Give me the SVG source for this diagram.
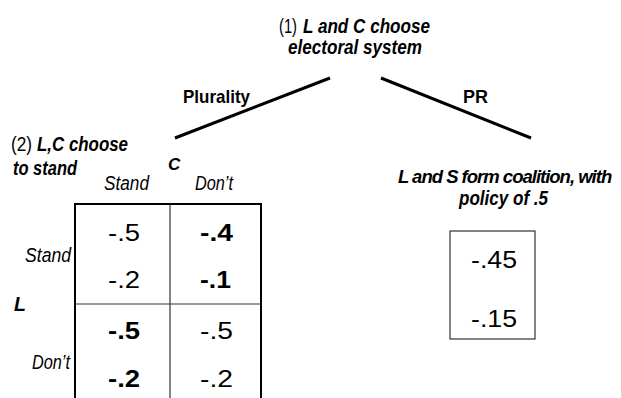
<svg xmlns="http://www.w3.org/2000/svg" width="621" height="398" viewBox="0 0 621 398">
<style>
text{font-family:"Liberation Sans",Arial,sans-serif;fill:#000}
.lb{font-size:19.5px;font-weight:bold;font-style:italic}
.rg{font-size:19.5px}
.it{font-size:19.5px;font-style:italic}
.bd{font-size:19px;font-weight:bold}
.num{font-size:24px}
.numb{font-size:24px;font-weight:bold}
.edge{stroke:#000;stroke-width:3;fill:none;stroke-linecap:butt}
</style>
<rect width="621" height="398" fill="#fff"/>
<g id="connectors">
<line class="edge" x1="175" y1="138" x2="330" y2="78"/>
<line class="edge" x1="381" y1="78" x2="531" y2="138"/>
<text class="bd" x="183" y="103" textLength="67" lengthAdjust="spacingAndGlyphs">Plurality</text>
<text class="bd" x="463" y="103" textLength="25" lengthAdjust="spacingAndGlyphs">PR</text>
</g>
<g id="node-root">
<text class="rg" x="279" y="33" textLength="18" lengthAdjust="spacingAndGlyphs">(1)</text>
<text class="lb" x="303" y="33" textLength="127" lengthAdjust="spacingAndGlyphs">L and C choose</text>
<text class="lb" x="288" y="54" textLength="134" lengthAdjust="spacingAndGlyphs">electoral system</text>
</g>
<g id="node-plurality">
<text class="rg" x="11" y="151" textLength="21" lengthAdjust="spacingAndGlyphs">(2)</text>
<text class="lb" x="37" y="151" textLength="91" lengthAdjust="spacingAndGlyphs">L,C choose</text>
<text class="lb" x="13" y="175" textLength="64" lengthAdjust="spacingAndGlyphs">to stand</text>
<text class="lb" x="168" y="170" style="font-size:17px">C</text>
<text class="it" x="104" y="190" textLength="45" lengthAdjust="spacingAndGlyphs">Stand</text>
<text class="it" x="195" y="190" textLength="38" lengthAdjust="spacingAndGlyphs">Don’t</text>
<text class="it" x="25" y="262" textLength="46" lengthAdjust="spacingAndGlyphs">Stand</text>
<text class="lb" x="14" y="311">L</text>
<text class="it" x="32" y="369" textLength="38" lengthAdjust="spacingAndGlyphs">Don’t</text>
<line x1="170" y1="204" x2="170" y2="404" stroke="#333" stroke-width="1.2"/>
<line x1="75" y1="304" x2="261" y2="304" stroke="#333" stroke-width="1.2"/>
<rect x="75" y="204" width="186" height="200" fill="none" stroke="#000" stroke-width="2"/>
<text class="num" x="108" y="241" textLength="32" lengthAdjust="spacingAndGlyphs">-.5</text>
<text class="num" x="108" y="288" textLength="32" lengthAdjust="spacingAndGlyphs">-.2</text>
<text class="numb" x="200" y="241" textLength="33" lengthAdjust="spacingAndGlyphs">-.4</text>
<text class="numb" x="200" y="288" textLength="31" lengthAdjust="spacingAndGlyphs">-.1</text>
<text class="numb" x="108" y="339" textLength="32" lengthAdjust="spacingAndGlyphs">-.5</text>
<text class="numb" x="108" y="387" textLength="32" lengthAdjust="spacingAndGlyphs">-.2</text>
<text class="num" x="200" y="339" textLength="33" lengthAdjust="spacingAndGlyphs">-.5</text>
<text class="num" x="200" y="387" textLength="33" lengthAdjust="spacingAndGlyphs">-.2</text>
</g>
<g id="node-pr">
<text class="lb" x="398" y="183" style="font-size:18.5px;letter-spacing:-1px">L and S form coalition, with</text>
<text class="lb" x="459" y="205" textLength="89" lengthAdjust="spacingAndGlyphs">policy of .5</text>
<rect x="450" y="231" width="85" height="108" fill="none" stroke="#333" stroke-width="1.2"/>
<text class="num" x="471" y="268" textLength="46" lengthAdjust="spacingAndGlyphs">-.45</text>
<text class="num" x="471" y="327" textLength="46" lengthAdjust="spacingAndGlyphs">-.15</text>
</g>
</svg>
